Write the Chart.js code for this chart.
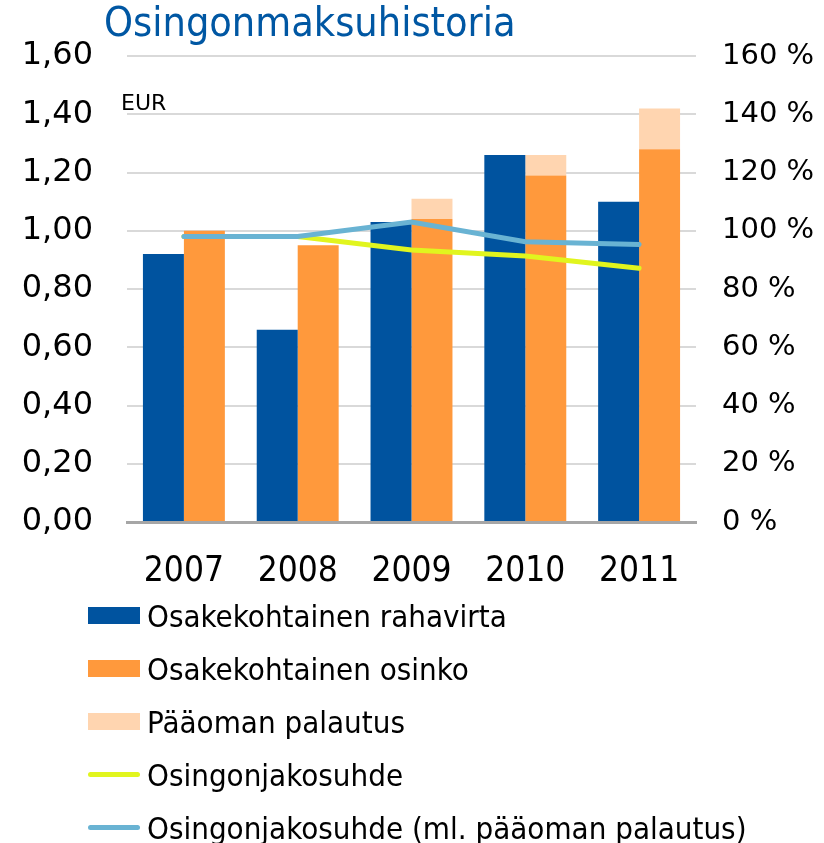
<!DOCTYPE html>
<html lang="fi">
<head>
    <meta charset="UTF-8">
    <title>Osingonmaksuhistoria</title>
    <script src="https://cdn.jsdelivr.net/npm/chart.js"></script>
    <style>
        body {
            margin: 0;
            padding: 0;
            background-color: #fff;
            font-family: "DejaVu Sans Condensed", "Liberation Sans Narrow", "DejaVu Sans", sans-serif;
        }
        .wrap {
            position: relative;
            width: 824px;
            height: 843px;
        }
        .chart-box {
            position: absolute;
            left: 0;
            top: 0;
            width: 824px;
            height: 600px;
        }
        .title {
            position: absolute;
            left: 104px;
            top: -2px;
            font-size: 41px;
            line-height: 48px;
            color: #0057a3;
            white-space: nowrap;
        }
        .unit {
            position: absolute;
            left: 121px;
            top: 89px;
            font-family: "DejaVu Sans", sans-serif;
            font-size: 22px;
            line-height: 28px;
            color: #000;
        }
        .legend {
            position: absolute;
            left: 88px;
            top: 589px;
        }
        .legend-item {
            display: flex;
            align-items: center;
            height: 53px;
            font-size: 31px;
            color: #000;
            white-space: nowrap;
        }
        .legend-mark {
            width: 52px;
            margin-right: 7px;
        }
    </style>
</head>
<body>
    <div class="wrap">
        <div class="chart-box">
            <canvas id="chart" width="824" height="600"></canvas>
        </div>
        <div class="title">Osingonmaksuhistoria</div>
        <div class="unit">EUR</div>
        <div class="legend" id="legend"></div>
    </div>

    <script>
        const years = ['2007', '2008', '2009', '2010', '2011'];
        const cashFlow = [0.92, 0.66, 1.03, 1.26, 1.10];
        const dividend = [1.00, 0.95, 1.04, 1.19, 1.28];
        const capitalReturn = [0, 0, 0.07, 0.07, 0.14];
        const payoutRatio = [98, 98, 93.4, 91.3, 87.1];
        const payoutRatioInclReturn = [98, 98, 103, 96.2, 95.3];

        const condensed = '"DejaVu Sans Condensed", "Liberation Sans Narrow", "DejaVu Sans", sans-serif';

        const ctx = document.getElementById('chart').getContext('2d');
        const chart = new Chart(ctx, {
            data: {
                labels: years,
                datasets: [
                    {
                        type: 'bar',
                        label: 'Osakekohtainen rahavirta',
                        data: cashFlow,
                        backgroundColor: '#00539f',
                        stack: 'cf',
                        order: 3
                    },
                    {
                        type: 'bar',
                        label: 'Osakekohtainen osinko',
                        data: dividend,
                        backgroundColor: '#ff993c',
                        stack: 'div',
                        order: 3
                    },
                    {
                        type: 'bar',
                        label: 'Pääoman palautus',
                        data: capitalReturn,
                        backgroundColor: '#ffd5b0',
                        stack: 'div',
                        order: 3
                    },
                    {
                        type: 'line',
                        label: 'Osingonjakosuhde',
                        data: payoutRatio,
                        yAxisID: 'y1',
                        borderColor: '#e1f51e',
                        borderWidth: 5,
                        borderCapStyle: 'round',
                        pointRadius: 0,
                        tension: 0,
                        order: 2
                    },
                    {
                        type: 'line',
                        label: 'Osingonjakosuhde (ml. pääoman palautus)',
                        data: payoutRatioInclReturn,
                        yAxisID: 'y1',
                        borderColor: '#69b3d3',
                        borderWidth: 5,
                        borderCapStyle: 'round',
                        pointRadius: 0,
                        tension: 0,
                        order: 1
                    }
                ]
            },
            options: {
                responsive: false,
                animation: false,
                layout: { padding: { top: 56, left: 0, right: 0, bottom: 0 } },
                datasets: {
                    bar: {
                        categoryPercentage: 0.72,
                        barPercentage: 1
                    }
                },
                plugins: {
                    legend: { display: false },
                    tooltip: { enabled: false }
                },
                scales: {
                    x: {
                        stacked: true,
                        grid: { display: false, drawTicks: false },
                        border: { color: '#a6a6a6', width: 3 },
                        ticks: {
                            color: '#000',
                            padding: 29,
                            font: { family: condensed, size: 35 }
                        },
                        afterFit: (scale) => { scale.height = 78; }
                    },
                    y: {
                        stacked: true,
                        min: 0,
                        max: 1.6,
                        grid: { color: '#d9d9d9', lineWidth: 2, drawTicks: false },
                        border: { display: false },
                        ticks: {
                            stepSize: 0.2,
                            color: '#000',
                            padding: 34,
                            font: { family: '"DejaVu Sans", sans-serif', size: 32 },
                            callback: (v) => v.toFixed(2).replace('.', ',')
                        },
                        afterFit: (scale) => { scale.width = 127; }
                    },
                    y1: {
                        position: 'right',
                        min: 0,
                        max: 160,
                        grid: { display: false, drawTicks: false },
                        border: { display: false },
                        ticks: {
                            stepSize: 20,
                            color: '#000',
                            padding: 26,
                            font: { family: '"DejaVu Sans", sans-serif', size: 29 },
                            callback: (v) => v + ' %'
                        },
                        afterFit: (scale) => { scale.width = 128; }
                    }
                }
            }
        });

        // legenda omana listanaan, rivi per sarja
        const legend = document.getElementById('legend');
        chart.data.datasets.forEach((ds) => {
            const item = document.createElement('div');
            item.className = 'legend-item';
            const mark = document.createElement('span');
            mark.className = 'legend-mark';
            if (ds.type === 'bar') {
                mark.style.height = '17px';
                mark.style.background = ds.backgroundColor;
            } else {
                mark.style.height = '5px';
                mark.style.borderRadius = '3px';
                mark.style.background = ds.borderColor;
            }
            const text = document.createElement('span');
            text.textContent = ds.label;
            item.appendChild(mark);
            item.appendChild(text);
            legend.appendChild(item);
        });
    </script>
</body>
</html>
